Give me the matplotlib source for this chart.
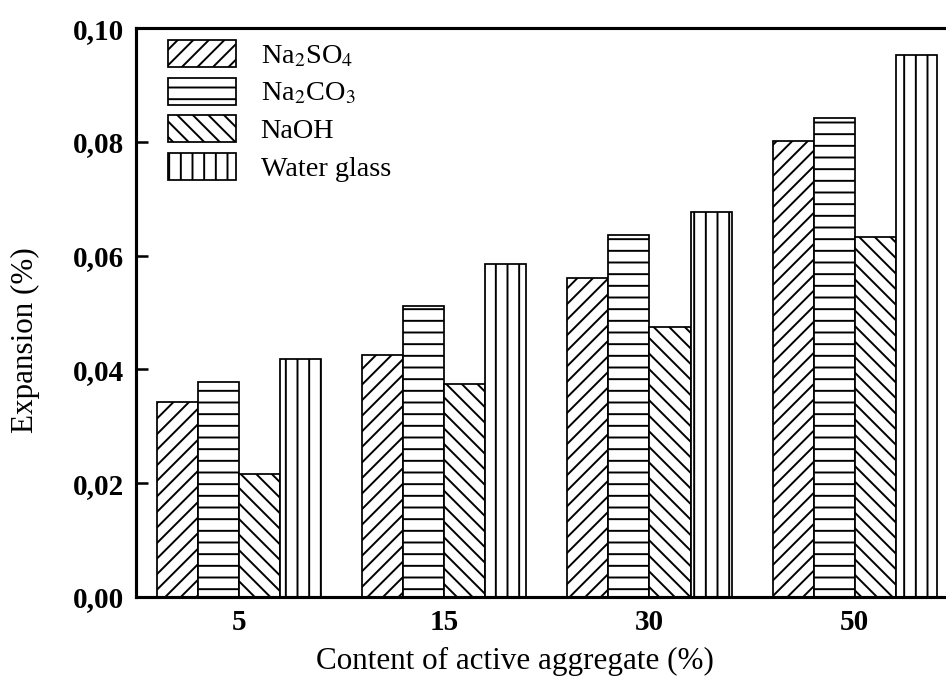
import matplotlib.pyplot as plt
import numpy as np
from matplotlib.ticker import FuncFormatter, MultipleLocator

plt.rcParams["font.family"] = ["Liberation Serif", "DejaVu Serif"]
plt.rcParams["mathtext.fontset"] = "stix"
plt.rcParams["hatch.linewidth"] = 1.0

contents = ["5", "15", "30", "50"]
series_names = ["Na$_2$SO$_4$", "Na$_2$CO$_3$", "NaOH", "Water glass"]
na2so4 = [0.0342, 0.0425, 0.0560, 0.0802]
na2co3 = [0.0378, 0.0511, 0.0636, 0.0842]
naoh = [0.0216, 0.0375, 0.0474, 0.0633]
water_glass = [0.0419, 0.0586, 0.0676, 0.0952]

series = [na2so4, na2co3, naoh, water_glass]
hatches = ["///", "--", "\\\\\\", "||"]

DPI = 140
fig = plt.figure(figsize=(946 / DPI, 686 / DPI), dpi=DPI)
ax = fig.add_axes([0.1438, 0.1297, 0.8684, 0.8294])

x = np.arange(len(contents))
width = 0.2
for i, (vals, name, h) in enumerate(zip(series, series_names, hatches)):
    ax.bar(x + (i - 1.5) * width, vals, width, facecolor="white", edgecolor="black",
           linewidth=0.9, hatch=h, label=name, zorder=2)

ax.set_xlim(-0.5, 3.5)
ax.set_ylim(0, 0.10)
ax.set_xticks(x)
ax.set_xticklabels(contents)
ax.yaxis.set_major_locator(MultipleLocator(0.02))
ax.yaxis.set_major_formatter(FuncFormatter(lambda v, _: f"{v:.2f}".replace(".", ",")))

for side in ["left", "bottom", "top"]:
    ax.spines[side].set_linewidth(1.6)
ax.spines["right"].set_visible(False)
ax.tick_params(direction="in", length=6, width=1.3, labelsize=15, pad=6)
for lab in ax.get_xticklabels() + ax.get_yticklabels():
    lab.set_fontweight("bold")

ax.set_xlabel("Content of active aggregate (%)", fontsize=16)
ax.set_ylabel("Expansion (%)", fontsize=16)
ax.xaxis.set_label_coords(0.461, -0.088)
ax.yaxis.set_label_coords(-0.117, 0.452)

ax.legend(loc="upper left", bbox_to_anchor=(0.039, 0.979), frameon=False, fontsize=14.5,
          handlelength=2.4, handleheight=1.1, labelspacing=0.3, handletextpad=0.88,
          borderpad=0, borderaxespad=0)

fig.savefig("out.png", dpi=DPI)
